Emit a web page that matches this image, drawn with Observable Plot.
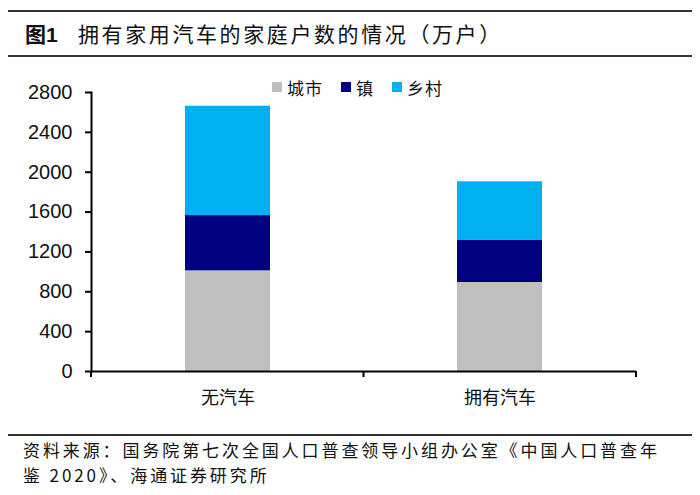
<!DOCTYPE html>
<html><head><meta charset="utf-8">
<script src="https://cdn.jsdelivr.net/npm/d3@7"></script>
<script src="https://cdn.jsdelivr.net/npm/@observablehq/plot@0.6"></script>
<style>
body{margin:0;background:#fff;}
#wrap{position:relative;width:700px;height:495px;overflow:hidden;font-family:"Noto Sans CJK SC",sans-serif;color:#111;}
.rule{position:absolute;left:8px;width:684px;height:2px;background:#333;}
#title{position:absolute;left:25px;top:18px;font-size:21px;line-height:30px;white-space:nowrap;}
#title .fig{font-weight:bold;}
#title .fig .n{font-family:"Liberation Sans",Arial,sans-serif;}
#title .t{position:absolute;left:53px;top:0;letter-spacing:2.6px;}
#legend{position:absolute;top:74px;left:272px;display:flex;align-items:center;height:26px;font-size:17px;letter-spacing:1px;white-space:nowrap;}
#legend .item{display:flex;align-items:center;margin-right:18px;}
#legend .sw{width:10px;height:10px;margin-right:5px;}
#chart{position:absolute;left:0;top:60px;}
#caption{position:absolute;left:23px;top:437px;font-size:17px;line-height:25px;letter-spacing:2.9px;white-space:nowrap;color:#111;}
</style></head>
<body>
<div id="wrap">
  <div class="rule" style="top:10px"></div>
  <div id="title"><span class="fig">图<span class="n">1</span></span><span class="t">拥有家用汽车的家庭户数的情况（万户）</span></div>
  <div class="rule" style="top:55px"></div>
  <div id="chart"></div>
  <div id="legend"></div>
  <div class="rule" style="top:434px"></div>
  <div id="caption">资料来源：国务院第七次全国人口普查领导小组办公室《中国人口普查年<br>鉴 2020》、海通证券研究所</div>
</div>
<script>
const categories = ["无汽车", "拥有汽车"];
const seriesNames = ["城市", "镇", "乡村"];
const urban = [1010, 893];
const town = [555, 422];
const rural = [1097, 589];
const colors = ["#BFBFBF", "#000080", "#00B0F0"];
const yTicks = [0, 400, 800, 1200, 1600, 2000, 2400, 2800];

const data = [];
[urban, town, rural].forEach((vals, s) =>
  categories.forEach((c, i) => data.push({category: c, series: seriesNames[s], value: vals[i]}))
);

const plot = Plot.plot({
  width: 700, height: 370,
  marginLeft: 91, marginRight: 64, marginTop: 32, marginBottom: 59,
  style: {background: "transparent", fontFamily: "Noto Sans CJK SC, sans-serif", color: "#111"},
  x: {domain: categories, paddingInner: 0.688, paddingOuter: 0.344, label: null},
  y: {domain: [0, 2800], label: null},
  color: {domain: seriesNames, range: colors},
  marks: [
    Plot.barY(data, {x: "category", y: "value", fill: "series"}),
    Plot.axisY({ticks: yTicks, tickSize: 6, tickPadding: 13, fontSize: 20, strokeWidth: 2, stroke: "#000",
      fontFamily: "Liberation Sans, Arial, sans-serif", tickFormat: d => String(d), label: null}),
    Plot.axisX({tickSize: 0, tickPadding: 20, fontSize: 18, label: null, fontFamily: "Noto Sans CJK SC, sans-serif"}),
    Plot.frame({anchor: "left", stroke: "#000", strokeWidth: 2}),
    Plot.ruleY([0], {stroke: "#000", strokeWidth: 2})
  ]
});

// category boundary ticks on the x axis
const xs = plot.scale("x");
const y0 = plot.scale("y").apply(0);
const [r0, r1] = xs.range;
const step = (r1 - r0) / categories.length;
const g = d3.select(plot).append("g").attr("stroke", "#000").attr("stroke-width", 2);
for (let i = 0; i <= categories.length; i++) {
  const x = r0 + i * step;
  g.append("line").attr("x1", x).attr("x2", x).attr("y1", y0).attr("y2", y0 + 6);
}
document.getElementById("chart").appendChild(plot);

// legend
const lg = d3.select("#legend");
seriesNames.forEach((s, i) => {
  const it = lg.append("div").attr("class", "item");
  it.append("div").attr("class", "sw").style("background", colors[i]);
  it.append("span").text(s);
});
</script>
</body></html>
